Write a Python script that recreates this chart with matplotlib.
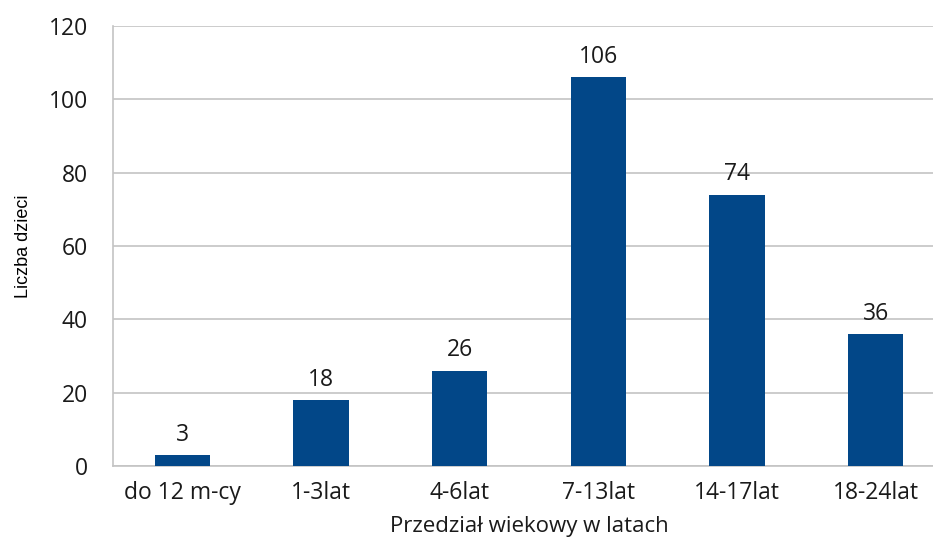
import matplotlib
matplotlib.use("Agg")
import matplotlib.pyplot as plt

categories = ["do 12 m-cy", "1-3lat", "4-6lat", "7-13lat", "14-17lat", "18-24lat"]
values = [3, 18, 26, 106, 74, 36]
yticks = [0, 20, 40, 60, 80, 100, 120]

plt.rcParams['font.family'] = ['Open Sans', 'DejaVu Sans']

fig = plt.figure(figsize=(9.33, 5.4), dpi=100)
ax = fig.add_axes([113/933, 74/540, 832/933, 440/540])

x = list(range(len(categories)))
bars = ax.bar(x, values, width=0.4, color="#024788", zorder=3)
for xi, v in zip(x, values):
    ax.text(xi, v + 2.3, str(v), ha="center", va="bottom", fontsize=16.5, color="#1a1a1a")

ax.set_xlim(-0.5, len(categories) - 0.5)
ax.set_ylim(0, 120)
ax.set_yticks(yticks)
ax.set_xticks(x)
ax.set_xticklabels(categories, fontsize=16.5, color="#1a1a1a")
ax.set_yticklabels([str(t) for t in yticks], fontsize=16.5, color="#1a1a1a")
ax.tick_params(axis="y", length=0, pad=18)
ax.tick_params(axis="x", length=0, pad=11)
ax.grid(axis="y", color="#c4c4c4", linewidth=1.2, zorder=0)
for s in ["top", "right"]:
    ax.spines[s].set_visible(False)
ax.spines["left"].set_color("#c4c4c4")
ax.spines["bottom"].set_color("#c4c4c4")
ax.spines["left"].set_linewidth(1.2)
ax.spines["bottom"].set_linewidth(1.2)

ax.set_ylabel("Liczba dzieci", fontsize=13, labelpad=12,
              fontfamily=['Liberation Sans', 'DejaVu Sans'])
ax.set_xlabel("Przedział wiekowy w latach", fontsize=16, labelpad=8, color="#1a1a1a")

fig.savefig("out.png", dpi=100)
